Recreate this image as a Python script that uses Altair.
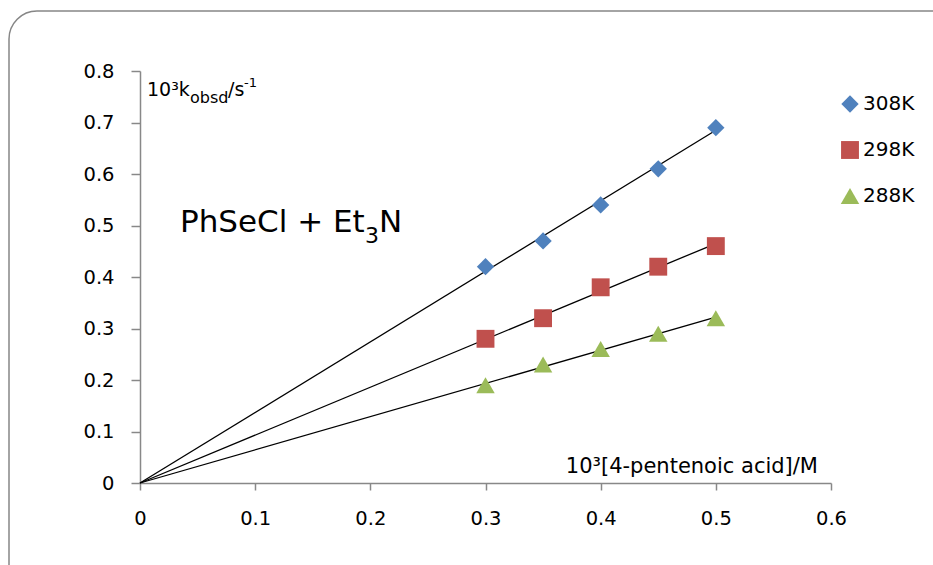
import altair as alt
import pandas as pd

# data
conc = [0.30, 0.35, 0.40, 0.45, 0.50]
k_308 = [0.42, 0.47, 0.54, 0.61, 0.69]
k_298 = [0.28, 0.32, 0.38, 0.42, 0.46]
k_288 = [0.19, 0.23, 0.26, 0.29, 0.32]
series = ["308K", "298K", "288K"]
# trend lines through origin, end values read at x = 0.5
trend_x = [0.0, 0.5]
trend_end = [0.685, 0.465, 0.322]

x_ticks = [0, 0.1, 0.2, 0.3, 0.4, 0.5, 0.6]
y_ticks = [0, 0.1, 0.2, 0.3, 0.4, 0.5, 0.6, 0.7, 0.8]

rows = []
for s, vals in zip(series, [k_308, k_298, k_288]):
    for x, y in zip(conc, vals):
        rows.append({"x": x, "y": y, "T": s})
pts = pd.DataFrame(rows)

trows = []
for s, e in zip(series, trend_end):
    trows.append({"x": trend_x[0], "y": 0.0, "T": s})
    trows.append({"x": trend_x[1], "y": e, "T": s})
tr = pd.DataFrame(trows)

FONT = "DejaVu Sans"
W, H = 691, 412

xs = alt.Scale(domain=[0, 0.6], nice=False)
ys = alt.Scale(domain=[0, 0.8], nice=False)

xax = alt.Axis(values=x_ticks, title=None, format="~g", grid=False, labelFlush=False)
yax = alt.Axis(values=y_ticks, title=None, format="~g", grid=False, labelFlush=False)

points = alt.Chart(pts).mark_point(filled=True, opacity=1).encode(
    x=alt.X("x:Q", scale=xs, axis=xax),
    y=alt.Y("y:Q", scale=ys, axis=yax),
    color=alt.Color("T:N", scale=alt.Scale(domain=series, range=["#4F81BD", "#C0504D", "#9BBB59"]),
                    legend=alt.Legend(title=None, orient="none", legendX=700, legendY=23,
                                      labelFontSize=20, labelFont=FONT, labelColor="black",
                                      symbolSize=230, rowPadding=26, labelOffset=3,
                                      symbolStrokeWidth=0)),
    shape=alt.Shape("T:N", scale=alt.Scale(domain=series, range=["diamond", "square", "triangle-up"]),
                    legend=None),
    size=alt.Size("T:N", scale=alt.Scale(domain=series, range=[300, 340, 320]), legend=None),
)

lines = alt.Chart(tr).mark_line(color="black", strokeWidth=1.3).encode(
    x=alt.X("x:Q", scale=xs),
    y=alt.Y("y:Q", scale=ys),
    detail="T:N",
)


def label(txt, px, py, size, align="left"):
    return alt.Chart(pd.DataFrame({"t": [txt]})).mark_text(
        align=align, baseline="alphabetic", fontSize=size, font=FONT, color="black"
    ).encode(x=alt.value(px), y=alt.value(py), text="t:N")


texts = [
    label("10³k", 7, 25, 19),
    label("obsd", 50, 32, 16),
    label("/s", 88, 25, 19),
    label("-1", 104, 16, 13),
    label("PhSeCl + Et", 40, 161, 31),
    label("3", 225, 172, 22),
    label("N", 239, 161, 31),
    label("10³[4-pentenoic acid]/M", 678, 402, 21, align="right"),
]

border = alt.Chart(pd.DataFrame({"a": [0]})).mark_rect(
    fillOpacity=0, stroke="#868686", strokeWidth=1.5, cornerRadius=28
).encode(x=alt.value(-131), y=alt.value(-60), x2=alt.value(830), y2=alt.value(530))

chart = alt.layer(border, lines, points, *texts).properties(
    width=W, height=H,
    autosize=alt.AutoSizeParams(type="none"),
    padding={"left": 140, "top": 71, "right": 102, "bottom": 82},
    background="white",
).configure_view(stroke=None).configure_axis(
    domainColor="#888888", tickColor="#888888", domainWidth=1.5, tickWidth=1.5,
    tickSize=7, labelFontSize=19.5, labelFont=FONT, labelColor="black",
    labelPadding=18,
).configure_axisX(labelPadding=19).configure_axisY(tickSize=9, labelPadding=17)

chart.save("out.html", embed_options={"renderer": "svg", "actions": False})
